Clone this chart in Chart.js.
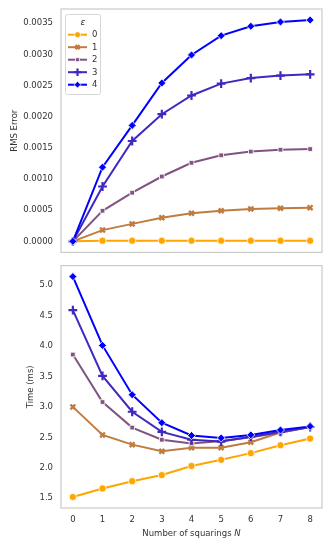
<!DOCTYPE html>
<html>
<head>
<meta charset="utf-8">
<script src="https://cdn.jsdelivr.net/npm/chart.js@4.4.1/dist/chart.umd.min.js"></script>
<style>
html,body{margin:0;padding:0;background:#fff;width:332px;height:553px;overflow:hidden;}
canvas{position:absolute;left:0;}
#c1{top:0;}
#c2{top:259px;}
</style>
</head>
<body>
<canvas id="c1" width="332" height="259"></canvas>
<canvas id="c2" width="332" height="294"></canvas>
<script>
// ---- data ----
const squarings = [0, 1, 2, 3, 4, 5, 6, 7, 8];
const epsLabels = ["0", "1", "2", "3", "4"];
const rmsEps0 = [0, 0.00001, 0.00001, 0.00001, 0.00001, 0.00001, 0.00001, 0.00001, 0.00001];
const rmsEps1 = [0, 0.00018, 0.00028, 0.00038, 0.00045, 0.00049, 0.00052, 0.00053, 0.00054];
const rmsEps2 = [0, 0.00049, 0.00078, 0.00104, 0.00126, 0.00138, 0.00144, 0.00147, 0.00148];
const rmsEps3 = [0, 0.00088, 0.00161, 0.00204, 0.00234, 0.00253, 0.00262, 0.00266, 0.00268];
const rmsEps4 = [0, 0.00119, 0.00186, 0.00254, 0.00299, 0.00330, 0.00345, 0.00352, 0.00355];
const timeEps0 = [1.52, 1.66, 1.78, 1.88, 2.03, 2.13, 2.24, 2.37, 2.48];
const timeEps1 = [3.00, 2.54, 2.38, 2.27, 2.33, 2.33, 2.42, 2.58, 2.67];
const timeEps2 = [3.86, 3.08, 2.66, 2.46, 2.40, 2.44, 2.50, 2.58, 2.67];
const timeEps3 = [4.59, 3.51, 2.92, 2.59, 2.46, 2.43, 2.51, 2.59, 2.67];
const timeEps4 = [5.14, 4.01, 3.20, 2.74, 2.53, 2.49, 2.54, 2.62, 2.68];
const rmsTicks = [0, 0.0005, 0.0010, 0.0015, 0.0020, 0.0025, 0.0030, 0.0035];
const timeTicks = [1.5, 2.0, 2.5, 3.0, 3.5, 4.0, 4.5, 5.0];
const xTicks = [0, 1, 2, 3, 4, 5, 6, 7, 8];

// ---- styles ----
const colors = ["#ffa500", "#bf7c40", "#805380", "#4029bf", "#0000ff"];
const markers = [
  {pointStyle: "circle", radius: 3.6, borderWidth: 0.8, fill: true},
  {pointStyle: "crossRot", radius: 3.4, borderWidth: 2.4, fill: false},
  {pointStyle: "rect", radius: 3.3, borderWidth: 0.8, fill: true},
  {pointStyle: "cross", radius: 4.4, borderWidth: 2.2, fill: false},
  {pointStyle: "rectRot", radius: 4.0, borderWidth: 0.8, fill: true}
];
const FONT = "'DejaVu Sans', sans-serif";
const TXT = "#333333";
Chart.defaults.font.family = FONT;
Chart.defaults.font.size = 8.5;
Chart.defaults.color = TXT;

function makeSets(series) {
  return series.map((vals, i) => {
    const m = markers[i];
    return {
      label: epsLabels[i],
      data: squarings.map((x, k) => ({x: x, y: vals[k]})),
      borderColor: colors[i],
      backgroundColor: colors[i],
      borderWidth: 2,
      pointStyle: m.pointStyle,
      pointRadius: m.radius,
      pointHoverRadius: m.radius,
      pointBackgroundColor: colors[i],
      pointBorderColor: m.fill ? "#ffffff" : colors[i],
      pointBorderWidth: m.borderWidth,
      tension: 0,
      clip: false,
      order: 4 - i
    };
  });
}

const framePlugin = {
  id: "frame",
  afterDraw(chart) {
    const a = chart.chartArea, ctx = chart.ctx;
    ctx.save();
    ctx.strokeStyle = "#cccccc";
    ctx.lineWidth = 1.25;
    ctx.strokeRect(a.left, a.top, a.right - a.left, a.bottom - a.top);
    ctx.restore();
  }
};

const legendPlugin = {
  id: "customLegend",
  afterDraw(chart) {
    const ctx = chart.ctx;
    ctx.save();
    const bx = 65.5, by = 14.5, bw = 35, bh = 80, r = 2;
    ctx.beginPath();
    ctx.moveTo(bx + r, by);
    ctx.arcTo(bx + bw, by, bx + bw, by + bh, r);
    ctx.arcTo(bx + bw, by + bh, bx, by + bh, r);
    ctx.arcTo(bx, by + bh, bx, by, r);
    ctx.arcTo(bx, by, bx + bw, by, r);
    ctx.closePath();
    ctx.fillStyle = "rgba(255,255,255,0.8)";
    ctx.fill();
    ctx.strokeStyle = "#d6d6d6";
    ctx.lineWidth = 1;
    ctx.stroke();
    ctx.fillStyle = TXT;
    ctx.font = "italic 9px " + FONT;
    ctx.textAlign = "center";
    ctx.textBaseline = "middle";
    ctx.fillText("\u03b5", 83, 22.5);
    ctx.font = "8.5px " + FONT;
    ctx.textAlign = "left";
    for (let i = 0; i < epsLabels.length; i++) {
      const y = 34.7 + i * 12.5;
      ctx.strokeStyle = colors[i];
      ctx.lineWidth = 2;
      ctx.beginPath();
      ctx.moveTo(68, y);
      ctx.lineTo(87, y);
      ctx.stroke();
      const m = markers[i];
      ctx.fillStyle = colors[i];
      ctx.strokeStyle = m.fill ? "#ffffff" : colors[i];
      ctx.lineWidth = m.borderWidth;
      Chart.helpers.drawPoint(ctx, {pointStyle: m.pointStyle, radius: m.radius * 0.85, rotation: 0, borderWidth: m.borderWidth}, 77.5, y);
      ctx.fillStyle = TXT;
      ctx.fillText(epsLabels[i], 92, y + 0.5);
    }
    ctx.restore();
  }
};

const xTitlePlugin = {
  id: "xTitle",
  afterDraw(chart) {
    const ctx = chart.ctx;
    const a = chart.chartArea;
    ctx.save();
    ctx.fillStyle = TXT;
    ctx.textBaseline = "middle";
    const t1 = "Number of squarings ", t2 = "N";
    ctx.font = "8.5px " + FONT;
    const w1 = ctx.measureText(t1).width;
    ctx.font = "italic 8.5px " + FONT;
    const w2 = ctx.measureText(t2).width;
    const x0 = (a.left + a.right) / 2 - (w1 + w2) / 2;
    const y = 533.5 - 259;
    ctx.font = "8.5px " + FONT;
    ctx.textAlign = "left";
    ctx.fillText(t1, x0, y);
    ctx.font = "italic 8.5px " + FONT;
    ctx.fillText(t2, x0 + w1, y);
    ctx.restore();
  }
};

function setTicks(arr) {
  return function (scale) { scale.ticks = arr.map(v => ({value: v})); };
}
function fitY(s) { s.width = 61; s.paddingTop = 0; s.paddingBottom = 0; }
function fitX(h) {
  return function (s) { s.height = h; s.paddingLeft = 0; s.paddingRight = 0; };
}

new Chart(document.getElementById("c1"), {
  type: "line",
  data: {datasets: makeSets([rmsEps0, rmsEps1, rmsEps2, rmsEps3, rmsEps4])},
  options: {
    responsive: false,
    animation: false,
    devicePixelRatio: 1,
    layout: {padding: {top: 9, right: 10, bottom: 5, left: 0}},
    plugins: {legend: {display: false}, tooltip: {enabled: false}},
    scales: {
      x: {type: "linear", min: -0.4, max: 8.4, display: false, afterBuildTicks: setTicks(xTicks)},
      y: {
        type: "linear", min: -0.0001775, max: 0.0037275,
        afterBuildTicks: setTicks(rmsTicks),
        afterFit: fitY,
        grid: {display: false, drawTicks: false},
        border: {display: false},
        ticks: {padding: 8, color: TXT, font: {size: 8.5}, callback: v => Number(v).toFixed(4)},
        title: {display: true, text: "RMS Error", color: TXT, font: {size: 8.5}, padding: {top: 10, bottom: 0}}
      }
    }
  },
  plugins: [framePlugin, legendPlugin]
});

new Chart(document.getElementById("c2"), {
  type: "line",
  data: {datasets: makeSets([timeEps0, timeEps1, timeEps2, timeEps3, timeEps4])},
  options: {
    responsive: false,
    animation: false,
    devicePixelRatio: 1,
    layout: {padding: {top: 5, right: 10, bottom: 0, left: 0}},
    plugins: {legend: {display: false}, tooltip: {enabled: false}},
    scales: {
      x: {
        type: "linear", min: -0.4, max: 8.4,
        afterBuildTicks: setTicks(xTicks),
        afterFit: fitX(45),
        grid: {display: false, drawTicks: false},
        border: {display: false},
        ticks: {padding: 7, color: TXT, font: {size: 8.5}, maxRotation: 0, callback: v => String(v)}
      },
      y: {
        type: "linear", min: 1.339, max: 5.321,
        afterBuildTicks: setTicks(timeTicks),
        afterFit: fitY,
        grid: {display: false, drawTicks: false},
        border: {display: false},
        ticks: {padding: 8, color: TXT, font: {size: 8.5}, callback: v => Number(v).toFixed(1)},
        title: {display: true, text: "Time (ms)", color: TXT, font: {size: 8.5}, padding: {top: 26, bottom: 0}}
      }
    }
  },
  plugins: [framePlugin, xTitlePlugin]
});
</script>
</body>
</html>
